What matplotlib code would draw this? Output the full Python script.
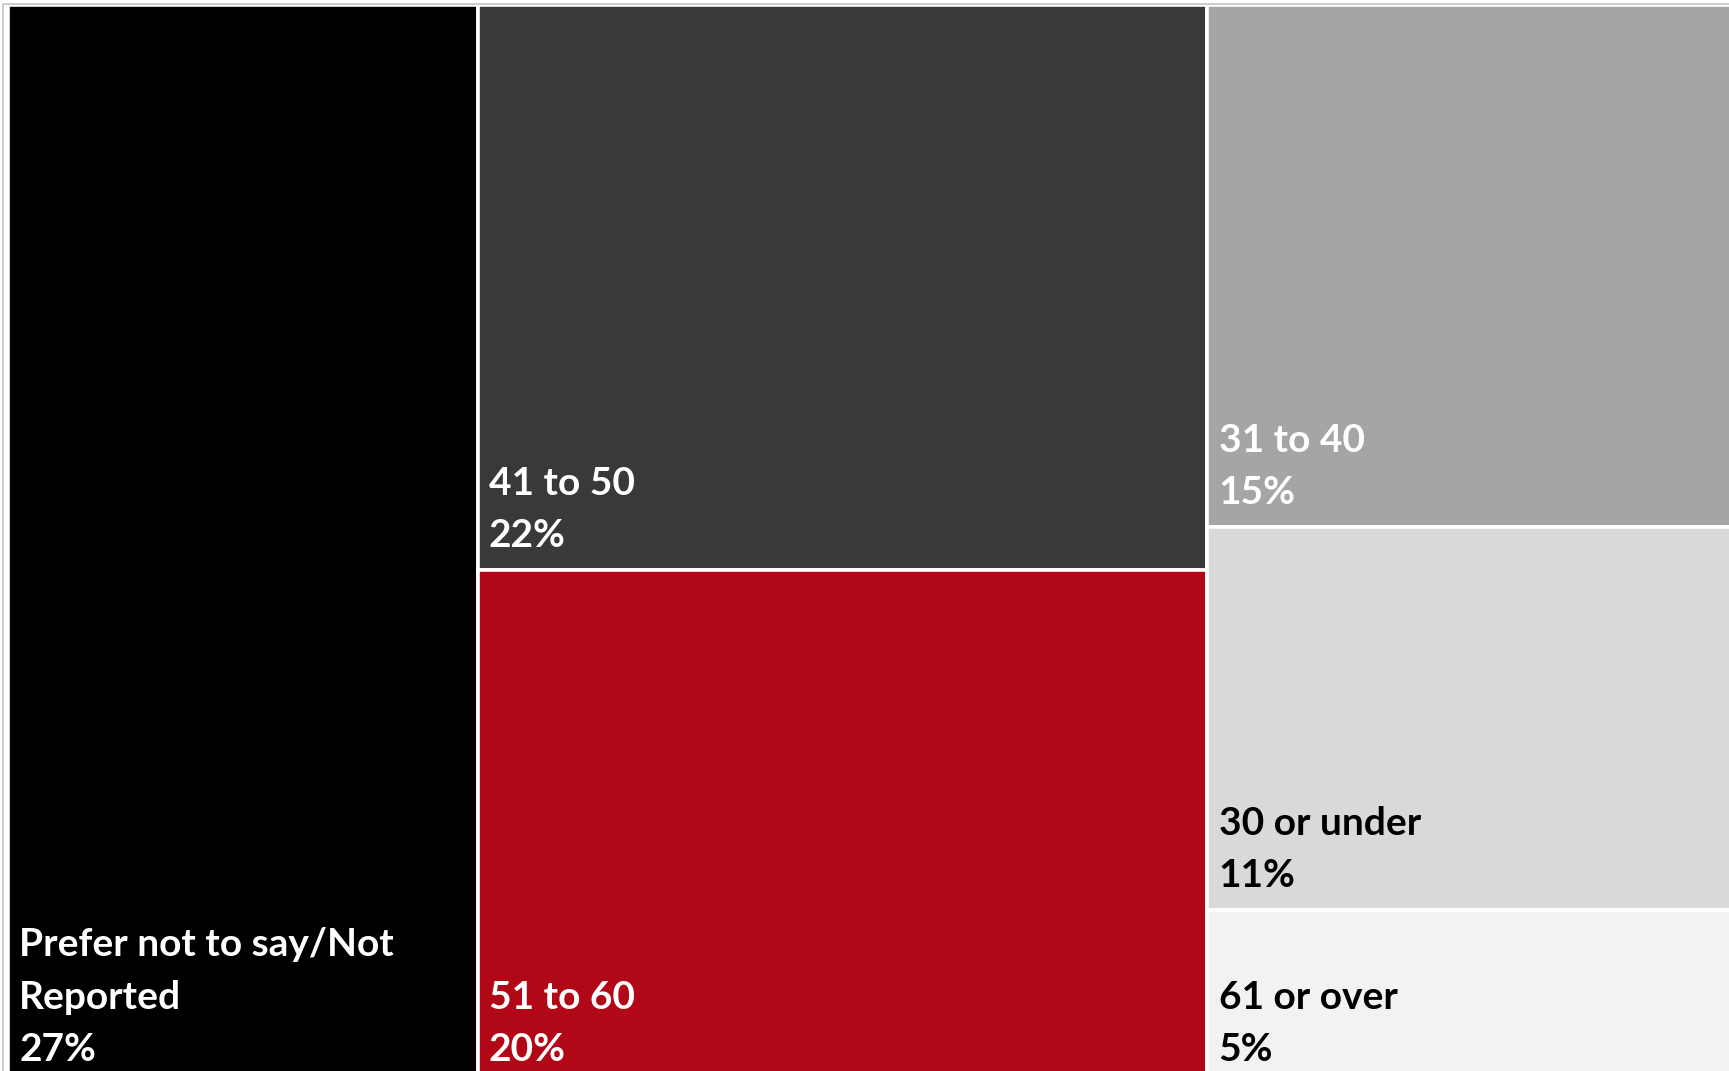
import matplotlib.pyplot as plt
from matplotlib.lines import Line2D

# age band shares (percent), grouped into treemap columns
labels = ["Prefer not to say/Not\nReported", "41 to 50", "51 to 60",
          "31 to 40", "30 or under", "61 or over"]
values = [27, 22, 20, 15, 11, 5]
columns = [[0], [1, 2], [3, 4, 5]]
colors = ["#000000", "#3a3938", "#b20716", "#a5a5a5", "#d9d9d9", "#f2f2f2"]
text_colors = ["white", "white", "white", "white", "black", "black"]

W_PX, H_PX = 1729, 1071
fig = plt.figure(figsize=(W_PX / 100, H_PX / 100), dpi=100)

# the plot area runs a little past the right and bottom edges
left_px, top_px = 8.25, 5.25
area_w, area_h = 1738, 1079
ax = fig.add_axes([left_px / W_PX, (H_PX - top_px - area_h) / H_PX,
                   area_w / W_PX, area_h / H_PX])
ax.set_xlim(0, sum(values))
ax.set_ylim(100, 0)
ax.axis("off")

x0 = 0
for col in columns:
    col_total = sum(values[i] for i in col)
    y0 = 0
    for i in col:
        h = 100 * values[i] / col_total
        ax.bar(x0, h, width=col_total, bottom=y0, align="edge",
               color=colors[i], edgecolor="white", linewidth=2.6)
        # label lines stacked upward from the tile's bottom-left corner
        lines = labels[i].split("\n") + [f"{values[i]}%"]
        for k, line in enumerate(reversed(lines)):
            ax.annotate(line, xy=(x0, y0 + h), xytext=(8, 17 + k * 37.5),
                        textcoords="offset points", ha="left", va="baseline",
                        fontsize=28, fontweight="bold", family="Lato",
                        color=text_colors[i], annotation_clip=False)
        y0 += h
    x0 += col_total

# light chart-area border along the top and left
fig.add_artist(Line2D([3 / W_PX, 3 / W_PX, 1.0],
                      [0.0, 1 - 3.5 / H_PX, 1 - 3.5 / H_PX],
                      transform=fig.transFigure, color="#c8c8c8", linewidth=1.3))

fig.savefig("out.png", dpi=100)
